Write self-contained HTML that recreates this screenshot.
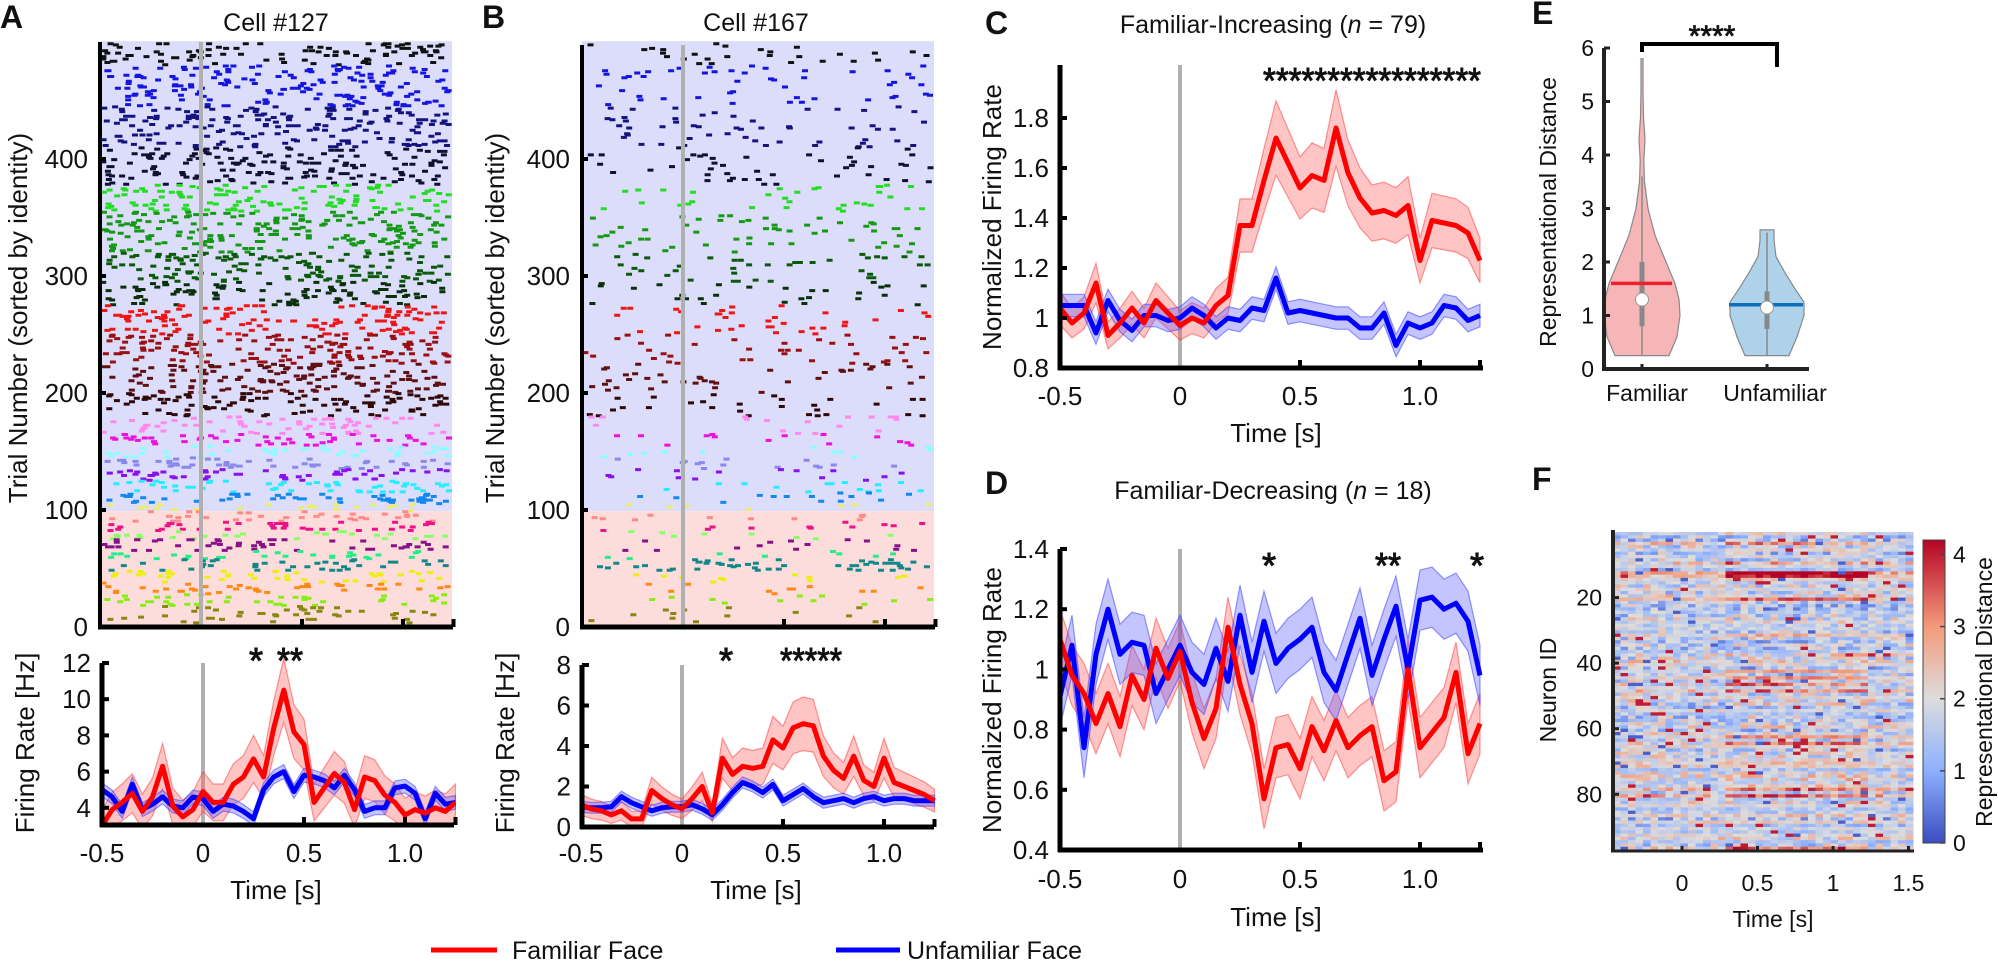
<!DOCTYPE html>
<html><head><meta charset="utf-8">
<style>
html,body{margin:0;padding:0;background:#fff;}
svg{display:block;font-family:"Liberation Sans",Arial,sans-serif;}
text{fill:#111;}
</style></head>
<body>
<svg id="s" width="1998" height="961" viewBox="0 0 1998 961" xmlns="http://www.w3.org/2000/svg">
<defs>
<linearGradient id="cbgrad" x1="0" y1="1" x2="0" y2="0">
<stop offset="0" stop-color="rgb(59,76,192)"/>
<stop offset="0.238" stop-color="rgb(141,176,254)"/>
<stop offset="0.476" stop-color="rgb(221,221,221)"/>
<stop offset="0.714" stop-color="rgb(244,154,123)"/>
<stop offset="1" stop-color="rgb(180,4,38)"/>
</linearGradient>
</defs>
<g font-weight="bold" font-size="32">
<text x="0" y="28">A</text><text x="482" y="28">B</text>
<text x="985" y="34">C</text><text x="985" y="494">D</text>
<text x="1532" y="24">E</text><text x="1532" y="490">F</text>
</g>
<g font-size="25" text-anchor="middle">
<text x="276" y="31">Cell #127</text>
<text x="756" y="31">Cell #167</text>
<text x="1273" y="33">Familiar-Increasing (<tspan font-style="italic">n</tspan> = 79)</text>
<text x="1273" y="499">Familiar-Decreasing (<tspan font-style="italic">n</tspan> = 18)</text>
</g>
<g font-size="26" text-anchor="middle">
<text transform="translate(27,318) rotate(-90)">Trial Number (sorted by identity)</text>
<text transform="translate(504,318) rotate(-90)">Trial Number (sorted by identity)</text>
<text transform="translate(34,743) rotate(-90)">Firing Rate [Hz]</text>
<text transform="translate(514,743) rotate(-90)">Firing Rate [Hz]</text>
<text transform="translate(1001,217) rotate(-90)">Normalized Firing Rate</text>
<text transform="translate(1001,700) rotate(-90)">Normalized Firing Rate</text>
<text x="276" y="899">Time [s]</text>
<text x="756" y="899">Time [s]</text>
<text x="1276" y="442">Time [s]</text>
<text x="1276" y="926">Time [s]</text>
</g>
<g id="g"></g>
<line x1="431" y1="950" x2="497" y2="950" stroke="#f00" stroke-width="5"/>
<text x="512" y="959" font-size="25">Familiar Face</text>
<line x1="836" y1="950" x2="900" y2="950" stroke="#00f" stroke-width="5"/>
<text x="907" y="959" font-size="25">Unfamiliar Face</text>
</svg>
<script>
(function(){
var NS="http://www.w3.org/2000/svg",G=document.getElementById("g");
function el(t,a,p){var e=document.createElementNS(NS,t);for(var k in a)e.setAttribute(k,a[k]);(p||G).appendChild(e);return e;}
function txt(x,y,s,o){o=o||{};var a={x:x,y:y,"font-size":o.fs||25};if(o.a)a["text-anchor"]=o.a;if(o.b)a["stroke"]="#111",a["stroke-width"]=o.b;var e=el("text",a,o.p);e.textContent=s;return e;}
var seed=12345;function R(){seed|=0;seed=seed+0x6D2B79F5|0;var t=Math.imul(seed^seed>>>15,1|seed);t=t+Math.imul(t^t>>>7,61|t)^t;return((t^t>>>14)>>>0)/4294967296;}

function raster(x0,top,scale,groups,density){
  var ty=function(v){return 627-v*1.17;};
  el("rect",{x:x0,y:ty(499)-2,width:352,height:ty(99)-ty(499)+2,fill:"#dcdcfb"});
  el("rect",{x:x0,y:ty(99),width:352,height:627-ty(99),fill:"#fddcdc"});
  var d={};
  groups.forEach(function(g){
    var n=Math.round((g[1]-g[0])*g[3]*density);
    var s=d[g[2]]||"";
    for(var i=0;i<n;i++){var tr=g[0]+Math.floor(R()*(g[1]-g[0]));var x=x0+R()*346;var y=ty(tr+0.5);
      s+="M"+x.toFixed(1)+" "+y.toFixed(1)+"h6";}
    d[g[2]]=s;
  });
  for(var c in d) el("path",{d:d[c],stroke:c,"stroke-width":3,fill:"none"});
  var t0=x0+101;
  el("line",{x1:t0,y1:top,x2:t0,y2:627,stroke:"#b0b0b0","stroke-width":4});
  el("line",{x1:x0,y1:top,x2:x0,y2:629,stroke:"#000","stroke-width":4});
  el("line",{x1:x0-2,y1:627,x2:x0+353,y2:627,stroke:"#000","stroke-width":5});
  [0.5,1.0,1.25].forEach(function(t){var x=t0+t*202;el("line",{x1:x,y1:627,x2:x,y2:619,stroke:"#000","stroke-width":4});});
  [0,100,200,300,400].forEach(function(v){var y=ty(v);el("line",{x1:x0,y1:y,x2:x0+6,y2:y,stroke:"#000","stroke-width":4});txt(x0-12,y+9,String(v),{a:"end",fs:26});});
}
var gA=[[480,499,"#111",5],[445,480,"#1515e0",5],[410,445,"#141480",5.5],[378,410,"#101035",5],[355,378,"#22dd22",5],[320,355,"#159915",5.5],[295,320,"#0a5a0a",5.5],[275,295,"#0a300a",5],[250,275,"#ee1515",5],[225,250,"#9a1010",5.5],[200,225,"#601010",5.5],[180,200,"#300808",5],[165,180,"#ff88ee",4],[155,165,"#ee11dd",5],[145,155,"#88ffff",4],[135,145,"#8888ee",5],[125,135,"#8811ee",5],[115,125,"#22eeff",5],[105,115,"#1188ee",5],[99,105,"#eeee66",4],[90,99,"#ff8888",4],[82,90,"#ee1188",5],[75,82,"#88ff66",4],[65,75,"#881188",5],[58,65,"#22ee88",4],[48,58,"#118888",4],[38,48,"#eeee11",4],[28,38,"#ff8811",4],[18,28,"#88ee11",4],[3,18,"#888811",3]];
raster(100,42,1,gA,1.0);
var gB=gA.map(function(g){var h=g.slice();if(g[2]=="#118888")h[3]=18;return h;});
raster(582,45,1,gB,0.28);

function band(xs,ys,e,fx,fy,fill,stroke){
  var up=[],dn=[],ln=[];
  for(var i=0;i<ys.length;i++){var x=fx(xs[i]);up.push(x.toFixed(1)+","+fy(ys[i]+e[i]).toFixed(1));dn.unshift(x.toFixed(1)+","+fy(ys[i]-e[i]).toFixed(1));ln.push(x.toFixed(1)+","+fy(ys[i]).toFixed(1));}
  el("polygon",{points:up.concat(dn).join(" "),fill:fill,"fill-opacity":0.35,stroke:stroke,"stroke-opacity":0.5,"stroke-width":1.2});
  return ln.join(" ");
}
var T=[];for(var i=0;i<36;i++)T.push(-0.5+i*0.05);
function lp(o){
  var fx=o.fx,fy=o.fy;
  var cp=el("clipPath",{id:o.id});el("rect",{x:o.x0,y:o.top-20,width:o.x1-o.x0+2,height:o.bot-o.top+20},cp);
  var g=el("g",{"clip-path":"url(#"+o.id+")"});
  var keep=G;G=g;
  el("line",{x1:fx(0),y1:o.top,x2:fx(0),y2:o.bot,stroke:"#b0b0b0","stroke-width":4});
  var lr=band(T,o.red,o.re,fx,fy,"#f55","#f33");
  var lb=band(T,o.blue,o.be,fx,fy,"#55f","#33f");
  el("polyline",{points:lb,fill:"none",stroke:"#00f","stroke-width":5,"stroke-linejoin":"round"});
  el("polyline",{points:lr,fill:"none",stroke:"#f00","stroke-width":5,"stroke-linejoin":"round"});
  G=keep;
  el("line",{x1:o.x0,y1:o.top,x2:o.x0,y2:o.bot+2,stroke:"#000","stroke-width":5});
  el("line",{x1:o.x0-2,y1:o.bot,x2:o.x1,y2:o.bot,stroke:"#000","stroke-width":5});
  [0.5,1.0,1.25].forEach(function(t){var x=fx(t);el("line",{x1:x,y1:o.bot,x2:x,y2:o.bot-8,stroke:"#000","stroke-width":4});});
  o.yt.forEach(function(v){var y=fy(v[0]);el("line",{x1:o.x0,y1:y,x2:o.x0+7,y2:y,stroke:"#000","stroke-width":4});txt(o.x0-11,y+9,v[1],{a:"end",fs:26});});
  [[-0.5,"-0.5"],[0,"0"],[0.5,"0.5"],[1,"1.0"]].forEach(function(v){txt(fx(v[0]),o.xly,v[1],{a:"middle",fs:26});});
  o.stars.forEach(function(s){var e=txt(s[0],o.sy,s[1],{fs:36,b:1});if(s[2]){e.setAttribute("textLength",s[2]);e.setAttribute("lengthAdjust","spacingAndGlyphs");}});
}
function C(a,v){return a.map(function(){return v;});}
var aR=[3,3.9,4.3,4.8,3.8,4.6,6.3,4.1,3.5,3.9,4.9,4.3,4.3,5.3,5.7,6.7,5.7,8.4,10.5,8.2,7.5,4.3,5.1,5.9,5.4,3.9,5.7,5.5,4.7,4.3,3.6,3.9,3.7,4.0,3.8,4.3];
var aB=[5,4.6,3.8,5.3,3.9,4.2,4.6,4.1,4.0,4.6,4.5,3.8,4.2,4.1,3.8,3.4,5.0,5.7,6.0,4.9,5.8,5.7,5.5,5.1,5.8,5.0,3.8,4.0,4.0,5.1,5.2,4.8,3.4,4.8,4.2,4.3];
lp({id:"clA",x0:102,x1:454,top:663,bot:825,fx:function(t){return 203+t*202;},fy:function(v){return 663+(12-v)*18.1;},
 red:aR,re:aR.map(function(v){return 0.5+0.12*v;}),blue:aB,be:C(aB,0.38),
 yt:[[4,"4"],[6,"6"],[8,"8"],[10,"10"],[12,"12"]],xly:862,sy:673,stars:[[249,"*"],[277,"**",26]]});
var bR=[1.1,0.9,0.8,0.6,0.8,0.4,0.4,1.8,1.4,1.1,0.9,1.4,2.0,0.7,3.4,2.6,3.0,2.9,3.0,4.3,3.9,4.9,5.1,5.0,3.5,2.8,2.4,3.5,2.3,2.0,3.4,2.2,2.0,1.8,1.6,1.3];
var bB=[1,0.95,0.95,1,1.5,1.2,1,0.8,0.95,1,1,1.1,0.9,0.6,1.1,1.7,2.2,2.0,1.7,2.1,1.3,1.6,1.9,1.5,1.2,1.3,1.4,1.2,1.4,1.5,1.3,1.4,1.4,1.3,1.3,1.3];
lp({id:"clB",x0:582,x1:934,top:665,bot:827,fx:function(t){return 682+t*202;},fy:function(v){return 827-v*20.25;},
 red:bR,re:bR.map(function(v){return 0.3+0.2*v;}),blue:bB,be:C(bB,0.27),
 yt:[[0,"0"],[2,"2"],[4,"4"],[6,"6"],[8,"8"]],xly:862,sy:673,stars:[[719,"*"],[780,"*****",62]]});
var cR=[1.04,0.98,1.02,1.14,0.93,0.98,1.04,0.98,1.07,1.02,0.97,1.0,0.98,1.05,1.09,1.37,1.37,1.55,1.72,1.62,1.52,1.57,1.55,1.76,1.58,1.48,1.42,1.43,1.41,1.45,1.23,1.39,1.38,1.37,1.34,1.23];
var cB=[1.05,1.05,1.05,0.94,1.07,0.99,0.95,1.01,1.01,0.99,1.0,1.04,1.01,0.96,1.0,0.99,1.04,1.03,1.16,1.02,1.03,1.02,1.01,1.0,1.0,0.96,0.96,1.02,0.89,0.98,0.96,0.98,1.05,1.04,0.99,1.01];
lp({id:"clC",x0:1060,x1:1483,top:65,bot:368,fx:function(t){return 1180+t*240;},fy:function(v){return 318-(v-1)*250;},
 red:cR,re:cR.map(function(v){return 0.05+0.12*(v-0.9);}),blue:cB,be:C(cB,0.045),
 yt:[[0.8,"0.8"],[1,"1"],[1.2,"1.2"],[1.4,"1.4"],[1.6,"1.6"],[1.8,"1.8"]],xly:405,sy:93,stars:[[1263,"*****************",218]]});
var dR=[1.10,0.98,0.92,0.82,0.92,0.81,0.98,0.90,1.07,0.97,1.06,0.89,0.77,0.87,1.14,0.95,0.82,0.57,0.74,0.75,0.67,0.81,0.73,0.83,0.74,0.78,0.81,0.63,0.66,1.0,0.74,0.79,0.84,0.99,0.72,0.82];
var dB=[0.91,1.08,0.74,1.05,1.2,1.05,1.09,1.08,0.92,1.0,1.08,0.99,0.95,1.07,0.96,1.18,0.99,1.16,1.02,1.07,1.1,1.14,0.99,0.93,1.05,1.17,0.98,1.1,1.21,1.0,1.23,1.24,1.2,1.22,1.16,0.98];
lp({id:"clD",x0:1060,x1:1483,top:549,bot:850,fx:function(t){return 1180+t*240;},fy:function(v){return 549+(1.4-v)*301;},
 red:dR,re:C(dR,0.1),blue:dB,be:C(dB,0.1),
 yt:[[0.4,"0.4"],[0.6,"0.6"],[0.8,"0.8"],[1,"1"],[1.2,"1.2"],[1.4,"1.4"]],xly:888,sy:578,stars:[[1262,"*"],[1375,"**",26],[1470,"*"]]});

var ey=function(v){return 369-v*53.5;};
function violin(cx,prof,fill){
  var L=[],Rr=[];
  prof.forEach(function(p){L.push((cx-p[1]).toFixed(1)+","+ey(p[0]).toFixed(1));Rr.unshift((cx+p[1]).toFixed(1)+","+ey(p[0]).toFixed(1));});
  el("polygon",{points:L.concat(Rr).join(" "),fill:fill,stroke:"#888","stroke-width":1.2});
}
violin(1642,[[0.25,27],[0.6,35],[1.0,38],[1.3,37],[1.6,33],[2.0,24],[2.5,13],[3.0,6],[3.5,2.5],[3.9,1.8],[4.3,3],[4.7,1.5],[5.2,1],[5.8,1]],"#f6b6b8");
violin(1767,[[0.25,22],[0.6,30],[1.0,37],[1.25,37],[1.5,28],[1.8,18],[2.1,9],[2.4,7],[2.6,7]],"#aed2ea");
[[1642,0.25,3.6,0.8,2.0,1.3,1.6,1611,1672,"#ee2030"],[1767,0.25,2.55,0.75,1.45,1.15,1.2,1729,1803,"#0a70bd"]].forEach(function(v){
  el("line",{x1:v[0],y1:ey(v[1]),x2:v[0],y2:ey(v[2]),stroke:"#888","stroke-width":1.5});
  el("line",{x1:v[0],y1:ey(v[3]),x2:v[0],y2:ey(v[4]),stroke:"#888","stroke-width":5});
  el("line",{x1:v[7],y1:ey(v[6]),x2:v[8],y2:ey(v[6]),stroke:v[9],"stroke-width":3.5});
  el("circle",{cx:v[0],cy:ey(v[5]),r:6.5,fill:"#fff",stroke:"#999","stroke-width":1});
});
el("line",{x1:1604,y1:48,x2:1604,y2:371,stroke:"#222","stroke-width":4});
el("line",{x1:1602,y1:369,x2:1809,y2:369,stroke:"#222","stroke-width":4});
[1642,1767].forEach(function(x){el("line",{x1:x,y1:369,x2:x,y2:364,stroke:"#222","stroke-width":3});});
for(var v=0;v<=6;v++){var y=ey(v);el("line",{x1:1604,y1:y,x2:1610,y2:y,stroke:"#222","stroke-width":3});txt(1594,y+8,String(v),{a:"end",fs:23});}
el("polyline",{points:"1642,52 1642,44 1777,44 1777,67",fill:"none",stroke:"#000","stroke-width":4});
txt(1712,46,"****",{a:"middle",fs:30,b:0.8});
txt(1647,401,"Familiar",{a:"middle",fs:23});
txt(1775,401,"Unfamiliar",{a:"middle",fs:23});
var t=txt(0,0,"Representational Distance",{a:"middle",fs:23});t.setAttribute("transform","translate(1556,212) rotate(-90)");

var stops=[[0,[59,76,192]],[1,[141,176,254]],[2,[221,221,221]],[3,[244,154,123]],[4.2,[180,4,38]]];
function cmap(v){if(v<0)v=0;if(v>4.2)v=4.2;for(var i=0;i<stops.length-1;i++){if(v<=stops[i+1][0]){var f=(v-stops[i][0])/(stops[i+1][0]-stops[i][0]);var a=stops[i][1],b=stops[i+1][1];return "rgb("+Math.round(a[0]+(b[0]-a[0])*f)+","+Math.round(a[1]+(b[1]-a[1])*f)+","+Math.round(a[2]+(b[2]-a[2])*f)+")";}}}
var hx0=1613,hy0=532,cw=300/40,rh=318/97;
var hot={12:2.5,13:2.5,20:1.6,42:1.0,44:1.2,46:1.5,48:1.2,52:0.8,62:1.2,64:1.0,78:1.4,80:1.4,96:1.2};
for(var r=0;r<97;r++){
  var base=1.3+R()*0.9;var resp=(hot[r]||0)+(R()<0.25?R()*0.8:0);var noisy=R()<0.5?0.9:0.5;
  for(var c=0;c<40;c++){
    var tt=-0.46+c*0.05;var w=(tt>0.25&&tt<1.2)?1:0.3;
    var vv=base+resp*w+(R()-0.5)*2*noisy;
    if(R()<0.04)vv=R()<0.5?0.2:4;
    el("rect",{x:(hx0+c*cw).toFixed(2),y:(hy0+r*rh).toFixed(2),width:(cw+0.5).toFixed(2),height:(rh+0.4).toFixed(2),fill:cmap(vv)});
  }
}
el("line",{x1:1613,y1:530,x2:1613,y2:852,stroke:"#222","stroke-width":4});
el("line",{x1:1611,y1:851,x2:1914,y2:851,stroke:"#222","stroke-width":3});
[[0,"0"],[0.5,"0.5"],[1,"1"],[1.5,"1.5"]].forEach(function(v){var x=1682+v[0]*151;el("line",{x1:x,y1:851,x2:x,y2:846,stroke:"#222","stroke-width":3});txt(x,891,v[1],{a:"middle",fs:23});});
[20,40,60,80].forEach(function(n){var y=hy0+n*rh;el("line",{x1:1613,y1:y,x2:1619,y2:y,stroke:"#222","stroke-width":3});txt(1602,y+8,String(n),{a:"end",fs:23});});
txt(1773,927,"Time [s]",{a:"middle",fs:23});
t=txt(0,0,"Neuron ID",{a:"middle",fs:23});t.setAttribute("transform","translate(1556,690) rotate(-90)");
el("rect",{x:1923,y:540,width:22,height:303,fill:"url(#cbgrad)",stroke:"#444","stroke-width":1});
for(var k=0;k<=4;k++){var y2=843-k*303/4.2;el("line",{x1:1940,y1:y2,x2:1945,y2:y2,stroke:"#444","stroke-width":1.5});txt(1953,y2+8,String(k),{fs:23});}
t=txt(0,0,"Representational Distance",{a:"middle",fs:23});t.setAttribute("transform","translate(1992,692) rotate(-90)");
})();
</script>
</body></html>
